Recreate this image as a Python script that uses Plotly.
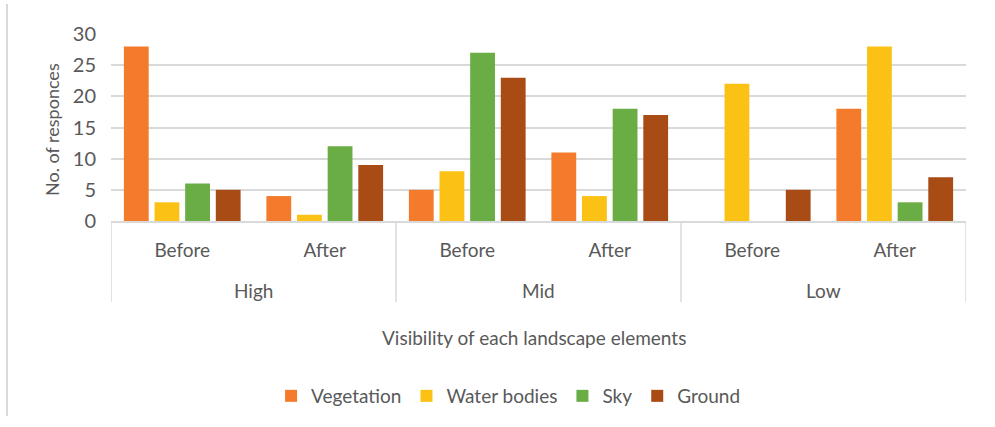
import plotly.graph_objects as go

# Survey responses: visibility of landscape elements before/after, by level
levels = ["High", "Mid", "Low"]
subgroups = ["Before", "After", "Before", "After", "Before", "After"]

series_names = ["Vegetation", "Water bodies", "Sky", "Ground"]
vegetation = [28, 4, 5, 11, 0, 18]
water_bodies = [3, 1, 8, 4, 22, 28]
sky = [6, 12, 27, 18, 0, 3]
ground = [5, 9, 23, 17, 5, 7]

y_ticks = [0, 5, 10, 15, 20, 25, 30]

colors = ["#F47B2B", "#FBC115", "#6AAD44", "#A84B14"]
values = [vegetation, water_bodies, sky, ground]

FONT = "Lato, 'Open Sans', sans-serif"
TEXT = "#595959"
GRID = "#D9D9D9"
FS = 19

x_pos = list(range(len(subgroups)))

fig = go.Figure()
for name, vals, col in zip(series_names, values, colors):
    fig.add_trace(go.Bar(
        name=name, x=x_pos, y=vals,
        marker=dict(color=col, line=dict(width=0)),
    ))

# plot area geometry (pixels) used to place lines outside the axes
L, R, T, B = 111, 29, 34, 206
W, H = 995 - L - R, 427 - T - B

def py(p):
    return (427 - B - p) / H

def px(p):
    return (p - L) / W

shapes = []
# vertical dividers of the category axis
for xv in [-0.5, 1.5, 3.5, 5.5]:
    shapes.append(dict(type="line", xref="x", yref="paper",
                       x0=xv, x1=xv, y0=0, y1=py(302),
                       line=dict(color=GRID, width=1.5)))
# outer chart frame on the left
shapes.append(dict(type="line", xref="paper", yref="paper",
                   x0=px(7), x1=px(7), y0=py(4), y1=py(416),
                   line=dict(color=GRID, width=2)))

annotations = []
for i, lvl in enumerate(levels):
    annotations.append(dict(x=2 * i + 0.5, xref="x", y=py(290), yref="paper",
                            xanchor="center", yanchor="middle",
                            text=lvl, showarrow=False,
                            font=dict(family=FONT, size=FS, color=TEXT)))
annotations.append(dict(x=px(534), xref="paper", y=py(337), yref="paper",
                        xanchor="center", yanchor="middle",
                        text="Visibility of each landscape elements", showarrow=False,
                        font=dict(family=FONT, size=FS, color=TEXT)))
annotations.append(dict(x=px(52), xref="paper", y=py(130), yref="paper",
                        xanchor="center", yanchor="middle",
                        text="No. of responces", showarrow=False, textangle=-90,
                        font=dict(family=FONT, size=18, color=TEXT)))

fig.update_layout(
    width=995, height=427,
    margin=dict(l=L, r=R, t=T, b=B),
    paper_bgcolor="white", plot_bgcolor="white",
    barmode="group", bargap=0.14, bargroupgap=0.19,
    font=dict(family=FONT, size=FS, color=TEXT),
    showlegend=True,
    legend=dict(orientation="h", x=0.465, xanchor="center",
                y=py(396), yanchor="middle",
                font=dict(family=FONT, size=FS, color=TEXT),
                itemwidth=30, traceorder="normal"),
    shapes=shapes,
    annotations=annotations,
    xaxis=dict(range=[-0.5, 5.5], tickvals=x_pos, ticktext=subgroups,
               showgrid=False, zeroline=False, showline=True,
               linecolor=GRID, linewidth=1.5, ticks="",
               ticklabelstandoff=11,
               tickfont=dict(family=FONT, size=FS, color=TEXT)),
    yaxis=dict(range=[0, 30], tickvals=y_ticks, showgrid=True,
               gridcolor=GRID, gridwidth=1.5, zeroline=False,
               showline=False, ticks="", ticklabelstandoff=14,
               tickfont=dict(family=FONT, size=20, color=TEXT)),
)

fig.write_html("out.html")
